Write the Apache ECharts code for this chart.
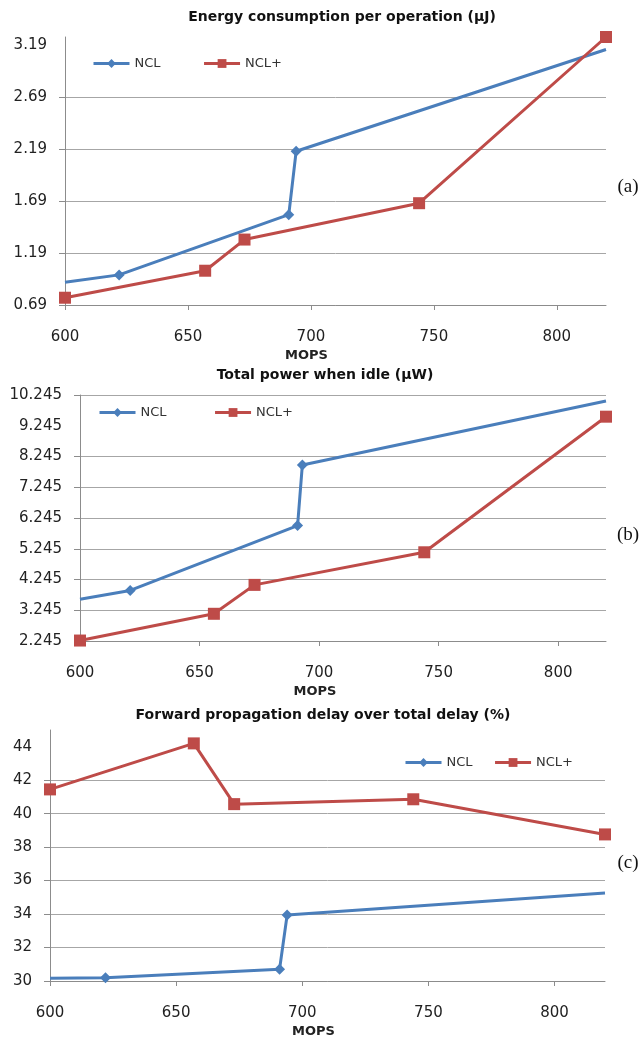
<!DOCTYPE html>
<html><head><meta charset="utf-8">
<script src="https://cdn.jsdelivr.net/npm/echarts@6/dist/echarts.min.js"></script>
<style>html,body{margin:0;padding:0;background:#fff}#c{width:642px;height:1039px}</style>
</head><body><div id="c"></div>
<script>
// ---- data ----
const xTickValues = [600, 650, 700, 750, 800];

const titleA = 'Energy consumption per operation (\u00b5J)';
const titleB = 'Total power when idle (\u00b5W)';
const titleC = 'Forward propagation delay over total delay (%)';

const aNCL  = [[600, 0.91], [622, 0.98], [691, 1.56], [694, 2.17], [820, 3.15]];
const aNCLp = [[600, 0.76], [657, 1.02], [673, 1.32], [744, 1.67], [820, 3.27]];
const aYLabels = [0.69, 1.19, 1.69, 2.19, 2.69, 3.19];
const aYTicks  = [0.69, 1.19, 1.69, 2.19, 2.69];

const bNCL  = [[600, 3.60], [621, 3.89], [691, 6.00], [693, 7.97], [820, 10.05]];
const bNCLp = [[600, 2.26], [656, 3.13], [673, 4.07], [744, 5.13], [820, 9.54]];
const bYLabels = [2.245, 3.245, 4.245, 5.245, 6.245, 7.245, 8.245, 9.245, 10.245];
const bYTicks  = [2.245, 3.245, 4.245, 5.245, 6.245, 7.245, 8.245, 10.245];

const cNCL  = [[600, 30.16], [622, 30.20], [691, 30.70], [694, 33.94], [820, 35.26]];
const cNCLp = [[600, 41.45], [657, 44.20], [673, 40.57], [744, 40.86], [820, 38.76]];
const cYLabels = [30, 32, 34, 36, 38, 40, 42, 44];
const cYTicks  = [30, 32, 34, 36, 38, 40, 42];

// ---- styles ----
const BLUE = '#4a7ebb', RED = '#be4b48';
const AX = '#8c8c8c', GRID = '#a6a6a6';
const TXT = 'DejaVu Sans';

function xAxis(gi, padR) {
  return {
    type: 'value', gridIndex: gi, min: 600, max: 820,
    axisLine: { show: true, lineStyle: { color: AX, width: 1 } },
    axisTick: { show: true, length: 5, lineStyle: { color: AX }, customValues: xTickValues },
    axisLabel: { customValues: xTickValues, margin: 25, fontSize: 15, color: '#222', fontFamily: TXT },
    splitLine: { show: false },
    name: 'MOPS', nameLocation: 'middle', nameGap: 44,
    nameTextStyle: { fontSize: 13, fontWeight: 'bold', color: '#222', fontFamily: TXT, padding: [0, padR, 0, 0] }
  };
}
function yAxis(gi, min, max, labels, ticks, dec) {
  return {
    type: 'value', gridIndex: gi, min: min, max: max,
    axisLine: { show: true, lineStyle: { color: AX, width: 1 } },
    axisTick: { show: true, length: 6, lineStyle: { color: AX }, customValues: ticks },
    axisLabel: { customValues: labels, margin: 18, fontSize: 15, color: '#222', fontFamily: TXT,
                 formatter: v => Number(v).toFixed(dec) },
    splitLine: { show: true, lineStyle: { color: GRID, width: 1 } }
  };
}
function pts(arr, hideEnds) {
  return arr.map((p, i) => (hideEnds && (i === 0 || i === arr.length - 1)) ? { value: p, symbol: 'none' } : { value: p });
}
function ser(name, data, gi, isNCL) {
  return {
    name: name, type: 'line', xAxisIndex: gi, yAxisIndex: gi,
    data: pts(data, isNCL), clip: false,
    symbol: isNCL ? 'diamond' : 'rect', symbolSize: isNCL ? 11 : 12,
    lineStyle: { width: 3, color: isNCL ? BLUE : RED },
    itemStyle: { color: isNCL ? BLUE : RED },
    emphasis: { disabled: true }
  };
}
function legend(left, top, gap) {
  return {
    data: ['NCL', 'NCL+'], left: left, top: top, padding: 0, itemGap: gap,
    itemWidth: 36, itemHeight: 11,
    lineStyle: { width: 3 },
    textStyle: { fontSize: 13, color: '#333', fontFamily: TXT }
  };
}
function txt(x, y, s, font, weight, size) {
  return { type: 'text', x: x, y: y, style: { text: s, fontFamily: font, fontWeight: weight, fontSize: size,
           fill: '#111', align: 'center', verticalAlign: 'middle' } };
}

const chart = echarts.init(document.getElementById('c'), null, { renderer: 'canvas' });
chart.setOption({
  animation: false,
  backgroundColor: '#fff',
  grid: [
    { left: 65, right: 36, top: 37, height: 268 },
    { left: 80, right: 36, top: 395, height: 246 },
    { left: 50, right: 37, top: 730, height: 252 }
  ],
  xAxis: [xAxis(0, 58), xAxis(1, 56), xAxis(2, 28)],
  yAxis: [
    yAxis(0, 0.69, 3.27, aYLabels, aYTicks, 2),
    yAxis(1, 2.245, 10.245, bYLabels, bYTicks, 3),
    yAxis(2, 30, 45, cYLabels, cYTicks, 0)
  ],
  legend: [legend(92, 57, 42), legend(98, 406, 47), legend(404, 756, 21)],
  series: [
    ser('NCL', aNCL, 0, true), ser('NCL+', aNCLp, 0, false),
    ser('NCL', bNCL, 1, true), ser('NCL+', bNCLp, 1, false),
    ser('NCL', cNCL, 2, true), ser('NCL+', cNCLp, 2, false)
  ],
  graphic: [
    txt(342, 17, titleA, TXT, 'bold', 14),
    txt(325, 375, titleB, TXT, 'bold', 14),
    txt(323, 715, titleC, TXT, 'bold', 14),
    txt(628, 187, '(a)', 'Liberation Serif', 'normal', 19),
    txt(628, 535, '(b)', 'Liberation Serif', 'normal', 19),
    txt(628, 863, '(c)', 'Liberation Serif', 'normal', 19)
  ]
});
</script></body></html>
